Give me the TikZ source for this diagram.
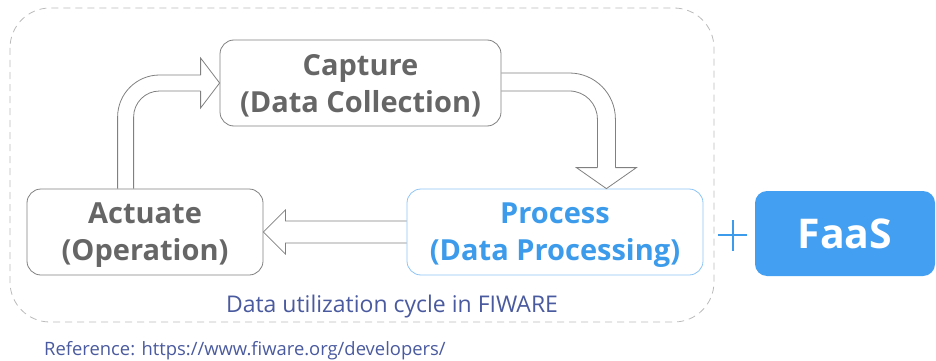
\documentclass[tikz,border=0pt]{standalone}
\usepackage{fontspec}
\setmainfont{Open Sans}
\usepackage{tikz}
\usetikzlibrary{calc}

\definecolor{stagegray}{HTML}{666666}
\definecolor{linegray}{HTML}{808080}
\definecolor{framegray}{HTML}{BBBBBB}
\definecolor{procblue}{HTML}{3C9BEA}
\definecolor{procline}{HTML}{8CC4F5}
\definecolor{faasblue}{HTML}{439FF1}
\definecolor{noteblue}{HTML}{4A5A9E}

\begin{document}
\begin{tikzpicture}[x=1pt,y=-1pt,
  stage/.style={draw=linegray,line width=0.8pt,rounded corners=14pt,align=center,
    inner sep=0pt,minimum height=86pt,text=stagegray,text depth=0pt,
    font=\fontsize{29}{37}\selectfont\bfseries},
  flow/.style={draw=linegray,line width=0.8pt},
  note/.style={text=noteblue,inner sep=0pt}]
  \useasboundingbox (0,0) rectangle (936,361);

  % outer dashed frame
  \draw[framegray,line width=0.8pt,dash pattern=on 7pt off 5pt,rounded corners=40pt]
    (10,8) rectangle (714,322);

  % the three stages
  \node[stage,minimum width=281pt] (cap) at (360.5,83) {Capture\\(Data Collection)};
  \node[stage,minimum width=236pt] (act) at (145,232) {Actuate\\(Operation)};
  \node[stage,minimum width=296pt,draw=procline,text=procblue] (proc) at (555,232)
    {Process\\(Data Processing)};

  % actuate -> capture
  \draw[flow,rounded corners=42pt] ($(act.north west)+(91,0)$) |- ($(cap.west)+(-19,-8)$);
  \draw[flow,rounded corners=26pt] ($(act.north west)+(107,0)$) |- ($(cap.west)+(-19,8)$);
  \draw[flow] ($(cap.west)+(-19,-8)$) -- ++(0,-17) -- (cap.west)
    -- ($(cap.west)+(-19,25)$) -- ++(0,-17);

  % capture -> process
  \coordinate (t2) at ($(proc.north east)+(-97,0)$);
  \draw[flow,rounded corners=46pt] ($(cap.east)+(0,-10)$) -| ($(t2)+(9,-21)$);
  \draw[flow,rounded corners=28pt] ($(cap.east)+(0,8)$) -| ($(t2)+(-9,-21)$);
  \draw[flow] ($(t2)+(9,-21)$) -- ++(21,0) -- (t2) -- ($(t2)+(-30,-21)$) -- ++(21,0);

  % process -> actuate
  \draw[flow] ($(proc.west)+(0,-11)$) -- ($(act.east)+(22,-11)$) -- ++(0,-11) -- (act.east)
    -- ($(act.east)+(22,22)$) -- ++(0,-11) -- ($(proc.west)+(0,11)$);

  % plus and FaaS
  \draw[procblue,line width=2.6pt] (718,235) -- (747,235) (733,220) -- (733,251);
  \node[fill=faasblue,rounded corners=12pt,minimum width=180pt,minimum height=85pt,
    text=white,font=\fontsize{41}{46}\selectfont\bfseries] (faas) at (845,233.5) {FaaS};

  % captions
  \node[note,anchor=base,font=\fontsize{23}{27}\selectfont] (cycle) at (392,312)
    {Data utilization cycle in FIWARE};
  \node[note,anchor=base west,font=\fontsize{18.4}{22}\selectfont] (ref) at (44,355)
    {Reference: https://www.fiware.org/developers/};
\end{tikzpicture}
\end{document}
